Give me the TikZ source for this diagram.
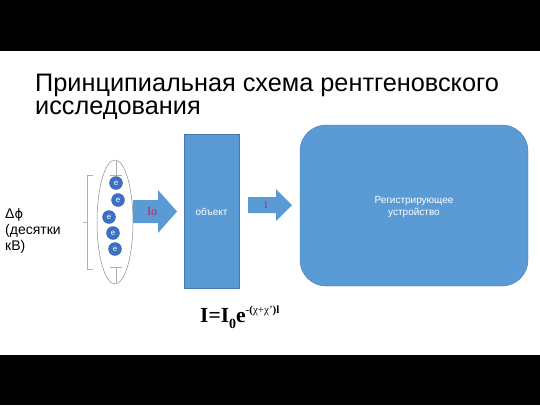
\documentclass[tikz,border=0pt]{standalone}
\usepackage{fontspec}
\setmainfont{Liberation Sans}
\newfontfamily\formulafont{Liberation Serif}
\newfontfamily\symbolfont{DejaVu Sans}
\usepackage{xcolor}
\usetikzlibrary{positioning}
\definecolor{boxblue}{RGB}{91,155,213}
\definecolor{boxedge}{RGB}{70,120,170}
\definecolor{elblue}{RGB}{60,112,196}
\definecolor{beamred}{RGB}{190,30,90}
\definecolor{tubegray}{RGB}{140,140,140}

\begin{document}
\begin{tikzpicture}[x=1pt,y=-1pt,
  blockbox/.style={fill=boxblue,draw=boxedge,line width=0.4pt},
  beamarrow/.style={fill=boxblue,draw=none},
  electron/.style={circle,fill=elblue,draw=elblue!80!black,line width=0.3pt,
    minimum size=13pt,inner sep=0pt,text=white,font=\fontsize{8}{8}\selectfont},
  boxlabel/.style={text=white,align=center,font=\fontsize{10}{12}\selectfont},
  beamlabel/.style={text=beamred,font=\formulafont\fontsize{12}{12}\selectfont}]
\useasboundingbox (0,0) rectangle (540,405);

% Frame bands
\fill[white] (0,0) rectangle (540,405);
\fill[black] (0,0) rectangle (540,51);
\fill[black] (0,355) rectangle (540,405);

% Title
\node[anchor=base west,inner sep=0pt,align=left,
  font=\fontsize{25.3}{23}\selectfont] (title) at (35,114)
  {Принципиальная схема рентгеновского\\исследования};

% Voltage label and bracket
\node[anchor=base west,inner sep=0pt,align=left,
  font=\fontsize{14}{16}\selectfont] (volt) at (5,250)
  {Δ{\symbolfont\fontsize{13}{16}\selectfont ϕ}\\(десятки\\кВ)};
\draw[tubegray!70,line width=0.5pt] (93,175) -- (87,175) -- (87,269) -- (93,269)
  (87,222) -- (83,222);

% Incident beam
\fill[beamarrow] (133,200) -- (158,200) -- (158,190) -- (177,211.5)
  -- (158,233) -- (158,223) -- (133,223) -- cycle;
\node[beamlabel] (io) at (152,212) {Io};

% Tube with electrons
\draw[tubegray,line width=0.5pt] (115,222) ellipse [x radius=18,y radius=62];
\draw[tubegray!70,line width=0.5pt] (116,160) -- (116,175) (110,175) -- (122,175)
  (110,267) -- (122,267) (116,267) -- (116,284);
\node[electron] (e1) at (116,183) {e};
\node[electron] (e2) at (118,200) {e};
\node[electron] (e3) at (109,217) {e};
\node[electron] (e4) at (113,233) {e};
\node[electron] (e5) at (115,249) {e};

% Object
\draw[blockbox] (184,134) rectangle (239,288);
\node[boxlabel] (obj) at (211.5,212) {объект};

% Transmitted beam
\fill[beamarrow] (248,197) -- (276,197) -- (276,189) -- (292,205)
  -- (276,221) -- (276,213) -- (248,213) -- cycle;
\node[beamlabel,font=\formulafont\fontsize{10}{10}\selectfont] (i) at (266,205) {I};

% Detector
\draw[blockbox,rounded corners=26pt] (300,125) rectangle (528,286);
\node[boxlabel] (det) at (414,207) {Регистрирующее\\устройство};

% Attenuation law
\node[anchor=base west,inner sep=0pt,
  font=\formulafont\bfseries\fontsize{21.5}{24}\selectfont] (law) at (200,322)
  {I=I\raisebox{-6pt}{\fontsize{14}{14}\selectfont 0}e\raisebox{9pt}{\fontsize{11}{11}\selectfont
  -(\mdseries χ+χ’\bfseries)l}};
\end{tikzpicture}
\end{document}
